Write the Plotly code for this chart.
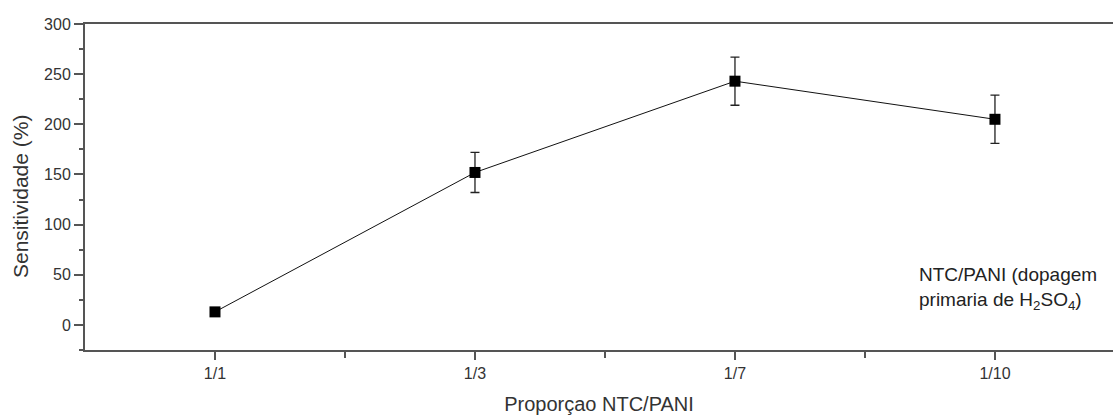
import plotly.graph_objects as go

categories = ["1/1", "1/3", "1/7", "1/10"]
positions = [1, 2, 3, 4]
sensitivity = [13, 152, 243, 205]
errors = [0, 20, 24, 24]

fig = go.Figure()
fig.add_trace(go.Scatter(
    x=positions, y=sensitivity,
    mode="lines+markers",
    line=dict(color="#111", width=1),
    marker=dict(symbol="square", size=11, color="#000"),
    error_y=dict(type="data", array=errors, visible=True, color="#222", thickness=1.3, width=4.5),
    showlegend=False,
))

FONT = "Liberation Sans, Arial"
axis_font = dict(family=FONT, size=16, color="#333")
fig.update_layout(
    width=1113, height=416,
    margin=dict(l=85, r=0, t=24, b=66),
    paper_bgcolor="white", plot_bgcolor="white",
    font=dict(family=FONT, color="#333"),
    xaxis=dict(
        range=[0.5, 4.454], tickvals=positions, ticktext=categories,
        showline=True, linecolor="#555", linewidth=2, mirror=True,
        ticks="outside", ticklen=8, tickcolor="#555", tickwidth=1.5, tickfont=axis_font,
        showgrid=False, zeroline=False,
        minor=dict(tickvals=[1.5, 2.5, 3.5], ticks="outside", ticklen=6, tickcolor="#555", tickwidth=1.5),
        title=dict(text="Proporçao NTC/PANI", font=dict(family=FONT, size=20, color="#333"), standoff=16),
    ),
    yaxis=dict(
        range=[-25, 300], tickvals=[0, 50, 100, 150, 200, 250, 300],
        showline=True, linecolor="#555", linewidth=2,
        ticks="outside", ticklen=9, tickcolor="#555", tickwidth=1.5, tickfont=axis_font,
        showgrid=False, zeroline=False,
        minor=dict(tickvals=[-25, 25, 75, 125, 175, 225, 275], ticks="outside", ticklen=4,
                   tickcolor="#555", tickwidth=1.5),
    ),
)

# y-axis title placed as rotated text
fig.add_annotation(
    xref="paper", yref="paper", x=(20 - 85) / 1028, y=(350 - 197) / 326,
    xanchor="center", yanchor="middle", textangle=-90, showarrow=False,
    text="Sensitividade (%)", font=dict(family=FONT, size=21, color="#333"),
)

fig.add_annotation(
    xref="paper", yref="paper", x=(917 - 85) / 1028, y=(350 - 288) / 326,
    xanchor="left", yanchor="middle", align="left", showarrow=False,
    text="NTC/PANI (dopagem<br>primaria de H<sub>2</sub>SO<sub>4</sub>)",
    font=dict(family=FONT, size=19, color="#222"),
)

fig.write_html("out.html", config={"displayModeBar": False},
               post_script="document.body.style.margin='0';")
